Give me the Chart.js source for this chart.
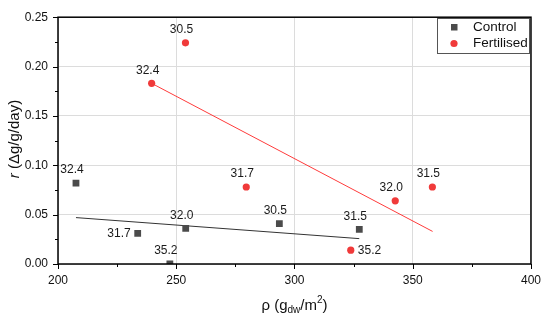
<!DOCTYPE html>
<html>
<head>
<meta charset="utf-8">
<script src="https://cdn.jsdelivr.net/npm/chart.js@4"></script>
<style>
  html, body { margin: 0; padding: 0; background: #fff; }
  #wrap { width: 550px; height: 322px; }
</style>
</head>
<body>
<div id="wrap"><canvas id="mycanvas"></canvas></div>
<script>
// data
var controlRho = [207.6, 233.7, 247.3, 254.0, 293.6, 327.4];
var controlR = [0.082, 0.031, 0.000, 0.036, 0.041, 0.035];
var controlLabels = ['32.4', '31.7', '35.2', '32.0', '30.5', '31.5'];

var fertRho = [239.6, 253.9, 279.6, 323.8, 342.6, 358.3];
var fertR = [0.183, 0.224, 0.078, 0.014, 0.064, 0.078];
var fertLabels = ['32.4', '30.5', '31.7', '35.2', '32.0', '31.5'];

// fitted lines (end points)
var controlFitRho = [207.6, 327.4];
var controlFitR = [0.047, 0.0257];
var fertFitRho = [239.6, 358.4];
var fertFitR = [0.183, 0.033];

var xTicks = [200, 250, 300, 350, 400];
var yTicks = [0, 0.05, 0.10, 0.15, 0.20, 0.25];

function pts(xs, ys) {
	var out = [];
	for (var i in xs) out.push({x: xs[i], y: ys[i]});
	return out;
}

var grey = '#4b4b4b';
var red = '#f03a3a';

// where to put each number relative to its point
var controlPlace = ['top', 'left', 'top', 'top', 'top', 'top'];
var fertPlace = ['top', 'top', 'top', 'right', 'top', 'top'];

var extras = {
	id: 'extras',
	afterDatasetsDraw: function(chart) {
		var ctx = chart.ctx;
		var a = chart.chartArea;
		var xs = chart.scales.x, ys = chart.scales.y;
		ctx.save();

		// point labels
		ctx.font = '12px Arial, "Liberation Sans"';
		ctx.fillStyle = '#1a1a1a';
		ctx.textBaseline = 'middle';
		[[0, controlLabels, controlPlace], [1, fertLabels, fertPlace]].forEach(function(s) {
			var meta = chart.getDatasetMeta(s[0]);
			meta.data.forEach(function(p, i) {
				var pl = s[2][i];
				if (pl == 'left') {
					ctx.textAlign = 'right';
					ctx.fillText(s[1][i], p.x - 7, p.y);
				} else if (pl == 'right') {
					ctx.textAlign = 'left';
					ctx.fillText(s[1][i], p.x + 7, p.y + 1);
				} else {
					ctx.textAlign = 'center';
					ctx.fillText(s[1][i], p.x - 4, p.y - 13);
				}
			});
		});

		// frame
		ctx.strokeStyle = '#000';
		ctx.lineWidth = 1.5;
		ctx.strokeRect(a.left, a.top, a.right - a.left, a.bottom - a.top);

		// tick marks (outside)
		ctx.lineWidth = 1;
		ctx.beginPath();
		for (var v = 200; v <= 400; v += 25) {
			var px = Math.round(xs.getPixelForValue(v)) + 0.5;
			var len = (v % 50 == 0) ? 5 : 3;
			ctx.moveTo(px, a.bottom);
			ctx.lineTo(px, a.bottom + len);
		}
		for (var k = 0; k <= 10; k++) {
			var py = Math.round(ys.getPixelForValue(k * 0.025)) + 0.5;
			var l2 = (k % 2 == 0) ? 5 : 3;
			ctx.moveTo(a.left, py);
			ctx.lineTo(a.left - l2, py);
		}
		ctx.stroke();

		// legend box
		ctx.strokeStyle = '#555';
		ctx.lineWidth = 1;
		ctx.strokeRect(437.5, 18.5, 92, 35);
		ctx.fillStyle = grey;
		ctx.fillRect(451, 24, 6.5, 6.5);
		ctx.fillStyle = red;
		ctx.beginPath();
		ctx.arc(454, 43.5, 3.6, 0, Math.PI * 2);
		ctx.fill();
		ctx.fillStyle = '#111';
		ctx.font = '13.5px Arial, "Liberation Sans"';
		ctx.textAlign = 'left';
		ctx.fillText('Control', 473, 27.5);
		ctx.fillText('Fertilised', 473, 43.5);

		// x axis title with subscript and superscript
		ctx.font = '15px Arial, "Liberation Sans"';
		var t1 = 'ρ (g', t2 = 'dw', t3 = '/m', t4 = '2', t5 = ')';
		var small = '10px Arial, "Liberation Sans"';
		var w1 = ctx.measureText(t1).width, w3 = ctx.measureText(t3).width, w5 = ctx.measureText(t5).width;
		ctx.font = small;
		var w2 = ctx.measureText(t2).width, w4 = ctx.measureText(t4).width;
		var cx = (a.left + a.right) / 2;
		var x0 = cx - (w1 + w2 + w3 + w4 + w5) / 2;
		var by = 310;
		ctx.textBaseline = 'alphabetic';
		ctx.font = '15px Arial, "Liberation Sans"';
		ctx.fillText(t1, x0, by);
		ctx.font = small;
		ctx.fillText(t2, x0 + w1, by + 3);
		ctx.font = '15px Arial, "Liberation Sans"';
		ctx.fillText(t3, x0 + w1 + w2, by);
		ctx.font = small;
		ctx.fillText(t4, x0 + w1 + w2 + w3, by - 7);
		ctx.font = '15px Arial, "Liberation Sans"';
		ctx.fillText(t5, x0 + w1 + w2 + w3 + w4, by);

		// y axis title
		ctx.translate(15, 139);
		ctx.rotate(-Math.PI / 2);
		ctx.textBaseline = 'middle';
		ctx.font = 'italic 15px Arial, "Liberation Sans"';
		var r = 'r', rest = ' (Δg/g/day)';
		var wr = ctx.measureText(r).width;
		ctx.font = '15px Arial, "Liberation Sans"';
		var wrest = ctx.measureText(rest).width;
		var sx = -(wr + wrest) / 2;
		ctx.font = 'italic 15px Arial, "Liberation Sans"';
		ctx.fillText(r, sx, 0);
		ctx.font = '15px Arial, "Liberation Sans"';
		ctx.fillText(rest, sx + wr, 0);

		ctx.restore();
	}
};

var chartdata = {
	datasets: [
		{
			label: 'Control',
			data: pts(controlRho, controlR),
			pointStyle: 'rect',
			pointRadius: 4.8,
			backgroundColor: grey,
			borderColor: grey,
			borderWidth: 0,
			showLine: false,
			order: 1
		},
		{
			label: 'Fertilised',
			data: pts(fertRho, fertR),
			pointStyle: 'circle',
			pointRadius: 3.6,
			backgroundColor: red,
			borderColor: red,
			borderWidth: 0,
			showLine: false,
			order: 1
		},
		{
			label: 'Control fit',
			data: pts(controlFitRho, controlFitR),
			showLine: true,
			pointRadius: 0,
			borderColor: '#333',
			borderWidth: 1,
			order: 2
		},
		{
			label: 'Fertilised fit',
			data: pts(fertFitRho, fertFitR),
			showLine: true,
			pointRadius: 0,
			borderColor: '#ff3b3b',
			borderWidth: 1,
			order: 2
		}
	]
};

var ctx = document.getElementById('mycanvas');

var scatter = new Chart(ctx, {
	type: 'scatter',
	data: chartdata,
	options: {
		responsive: true,
		maintainAspectRatio: false,
		animation: false,
		layout: { padding: { left: 0, top: 14, right: 17, bottom: 0 } },
		plugins: {
			legend: { display: false },
			tooltip: { enabled: false }
		},
		scales: {
			x: {
				type: 'linear',
				min: 200,
				max: 400,
				afterBuildTicks: function(s) { s.ticks = xTicks.map(function(v) { return {value: v}; }); },
				afterFit: function(s) { s.height = 58; },
				grid: { color: '#dcdcdc', lineWidth: 1, drawTicks: false },
				border: { display: false },
				ticks: {
					padding: 9,
					color: '#111',
					font: { family: 'Arial, "Liberation Sans"', size: 12 },
					callback: function(v) { return v; }
				}
			},
			y: {
				type: 'linear',
				min: 0,
				max: 0.25,
				afterBuildTicks: function(s) { s.ticks = yTicks.map(function(v) { return {value: v}; }); },
				afterFit: function(s) { s.width = 58; },
				grid: { color: '#dcdcdc', lineWidth: 1, drawTicks: false },
				border: { display: false },
				ticks: {
					padding: 10,
					color: '#111',
					font: { family: 'Arial, "Liberation Sans"', size: 12 },
					callback: function(v) { return v.toFixed(2); }
				}
			}
		}
	},
	plugins: [extras]
});
</script>
</body>
</html>
